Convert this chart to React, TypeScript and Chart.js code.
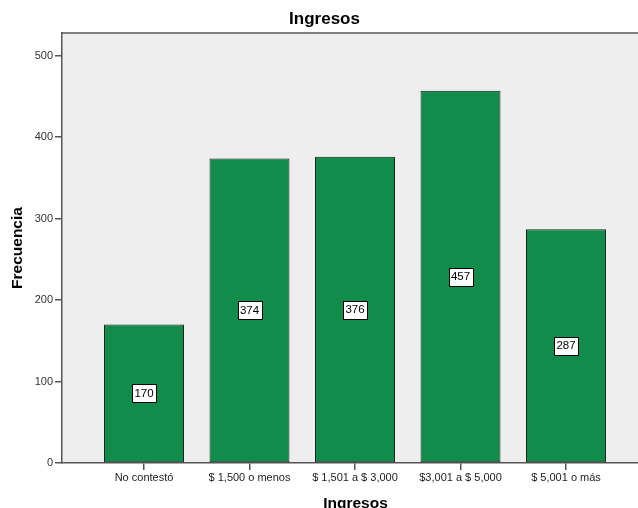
import React, { useEffect, useRef } from "react";
import { Chart, registerables } from "chart.js";

Chart.register(...registerables);

// Income brackets and how many respondents fell in each
const categories = [
  "No contestó",
  "$ 1,500 o menos",
  "$ 1,501 a $ 3,000",
  "$3,001 a $ 5,000",
  "$ 5,001 o más",
];
const frecuencias = [170, 374, 376, 457, 287];
const yTickValues = [0, 100, 200, 300, 400, 500];
const yMax = 528;

const FONT = '"Liberation Sans", Arial, Helvetica, sans-serif';
const AXIS_COLOR = "#555555";
const PLOT_BG = "#EEEEEE";
const BAR_FILL = "#128C4A";
const BAR_EDGE = "#15231A";

// Paints the grey plot background and the frame line along the top
const plotFrame = {
  id: "plotFrame",
  beforeDraw(chart: any) {
    const { ctx, chartArea } = chart;
    ctx.save();
    ctx.fillStyle = PLOT_BG;
    ctx.fillRect(
      chartArea.left,
      chartArea.top,
      chartArea.right - chartArea.left,
      chartArea.bottom - chartArea.top
    );
    ctx.restore();
  },
  afterDraw(chart: any) {
    const { ctx, chartArea } = chart;
    ctx.save();
    ctx.strokeStyle = AXIS_COLOR;
    ctx.lineWidth = 1.5;
    ctx.beginPath();
    ctx.moveTo(chartArea.left, chartArea.top);
    ctx.lineTo(chartArea.right, chartArea.top);
    ctx.stroke();
    ctx.restore();
  },
};

// Boxed count label in the middle of each bar
const boxedValues = {
  id: "boxedValues",
  afterDatasetsDraw(chart: any) {
    const { ctx } = chart;
    const meta = chart.getDatasetMeta(0);
    const values = chart.data.datasets[0].data;
    ctx.save();
    ctx.font = `11.5px ${FONT}`;
    ctx.textAlign = "center";
    ctx.textBaseline = "middle";
    meta.data.forEach((bar: any, i: number) => {
      const v = values[i].y;
      const text = String(v);
      const cx = bar.x;
      const cy = (bar.y + bar.base) / 2;
      const w = Math.round(ctx.measureText(text).width + 5);
      const h = 18;
      const x0 = Math.round(cx - w / 2) + 0.5;
      const y0 = Math.round(cy - h / 2) + 0.5;
      ctx.fillStyle = "#FFFFFF";
      ctx.fillRect(x0, y0, w, h);
      ctx.strokeStyle = "#000000";
      ctx.lineWidth = 1;
      ctx.strokeRect(x0, y0, w, h);
      ctx.fillStyle = "#000000";
      ctx.fillText(text, cx, cy + 0.5);
    });
    ctx.restore();
  },
};

export default function App() {
  const canvasRef = useRef<HTMLCanvasElement | null>(null);

  useEffect(() => {
    if (!canvasRef.current) return;
    const chart = new Chart(canvasRef.current, {
      type: "bar",
      data: {
        datasets: [
          {
            label: "Frecuencia",
            data: categories.map((_, i) => ({ x: i, y: frecuencias[i] })),
            backgroundColor: BAR_FILL,
            borderColor: BAR_EDGE,
            borderWidth: 1,
            borderSkipped: false,
            categoryPercentage: 0.758,
            barPercentage: 1,
          },
        ],
      },
      options: {
        animation: false,
        responsive: false,
        layout: { padding: 0 },
        plugins: {
          legend: { display: false },
          tooltip: { enabled: false },
          title: {
            display: true,
            text: "Ingresos",
            color: "#000000",
            font: { family: FONT, size: 17, weight: "bold" },
            padding: { top: 8.8, bottom: 3.8 },
          },
        },
        scales: {
          x: {
            type: "linear",
            offset: false,
            min: -0.7773,
            max: 4.7867,
            afterBuildTicks(scale: any) {
              scale.ticks = categories.map((_, i) => ({ value: i }));
            },
            afterFit(scale: any) {
              scale.height = 53;
            },
            ticks: {
              autoSkip: false,
              maxRotation: 0,
              minRotation: 0,
              padding: 1,
              color: "#222222",
              font: { family: FONT, size: 11 },
              callback: (v: any) => categories[Math.round(Number(v))] ?? "",
            },
            grid: {
              display: true,
              offset: false,
              drawOnChartArea: false,
              drawTicks: true,
              tickLength: 7,
              color: AXIS_COLOR,
              lineWidth: 1.5,
            },
            border: { display: true, color: AXIS_COLOR, width: 1.5 },
            title: {
              display: true,
              text: "Ingresos",
              color: "#000000",
              font: { family: FONT, size: 15.5, weight: "bold" },
              padding: { top: 0, bottom: 3.4 },
            },
          },
          y: {
            type: "linear",
            min: 0,
            max: yMax,
            afterBuildTicks(scale: any) {
              scale.ticks = yTickValues.map((v) => ({ value: v }));
            },
            afterFit(scale: any) {
              scale.width = 62;
            },
            ticks: {
              padding: 2,
              color: "#333333",
              font: { family: FONT, size: 11 },
            },
            grid: {
              display: true,
              drawOnChartArea: false,
              drawTicks: true,
              tickLength: 7,
              color: AXIS_COLOR,
              lineWidth: 1.5,
            },
            border: { display: true, color: AXIS_COLOR, width: 1.5 },
            title: {
              display: true,
              text: "Frecuencia",
              color: "#000000",
              font: { family: FONT, size: 15.5, weight: "bold" },
              padding: { top: 8.2, bottom: 0 },
            },
          },
        },
      },
      plugins: [plotFrame, boxedValues],
    } as any);
    return () => chart.destroy();
  }, []);

  return (
    <div
      style={{
        position: "fixed",
        left: 0,
        top: 0,
        width: 638,
        height: 508,
        overflow: "hidden",
        background: "#FFFFFF",
      }}
    >
      <canvas
        ref={canvasRef}
        width={649}
        height={516}
        style={{ display: "block", width: 649, height: 516 }}
      />
    </div>
  );
}
